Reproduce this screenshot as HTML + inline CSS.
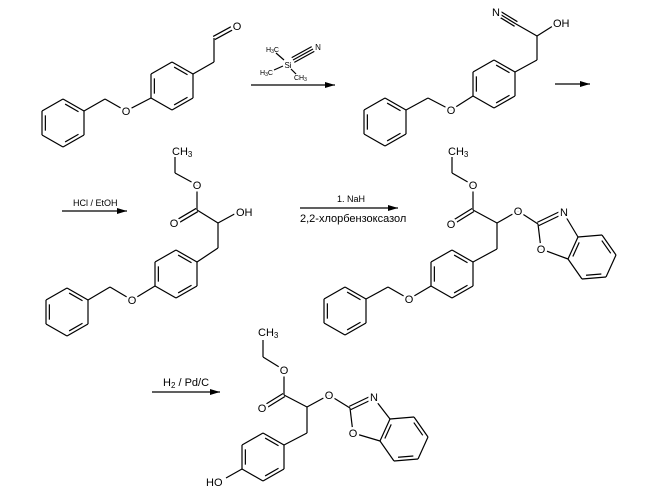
<!DOCTYPE html>
<html><head><meta charset="utf-8"><style>
html,body{margin:0;padding:0;background:#fff}
svg{display:block}
text{font-family:"Liberation Sans",sans-serif;fill:#000}
.l{paint-order:stroke;stroke:#fff;stroke-width:5px;stroke-linejoin:round}
</style></head><body>
<svg id="s" width="646" height="500" viewBox="0 0 646 500" xmlns="http://www.w3.org/2000/svg">
<defs><marker id="ah" markerWidth="10" markerHeight="6" refX="10" refY="3" orient="auto" markerUnits="userSpaceOnUse"><path d="M0,0 L10,3 L0,6 z" fill="#000"/></marker></defs>
<g id="b" stroke="#000" stroke-width="1.2" fill="none"></g>
<g stroke="#000" stroke-width="1.2">
<line x1="251" y1="85" x2="335" y2="85" marker-end="url(#ah)"/>
<line x1="555" y1="84" x2="590" y2="84" marker-end="url(#ah)"/>
<line x1="62" y1="211" x2="127" y2="211" marker-end="url(#ah)"/>
<line x1="300" y1="208" x2="398" y2="208" marker-end="url(#ah)"/>
<line x1="152" y1="392" x2="220" y2="392" marker-end="url(#ah)"/>
</g>
<g id="t" font-size="11">
<text class="l" x="126" y="115" text-anchor="middle">O</text>
<text class="l" x="237" y="30" text-anchor="middle">O</text>
<text class="l" x="451" y="114" text-anchor="middle">O</text>
<text class="l" x="553" y="27">OH</text>
<text class="l" x="496" y="16" text-anchor="middle">N</text>
<text x="172" y="155">CH<tspan font-size="8" dy="2">3</tspan></text>
<text class="l" x="197" y="189" text-anchor="middle">O</text>
<text class="l" x="174" y="227" text-anchor="middle">O</text>
<text class="l" x="236" y="216">OH</text>
<text class="l" x="132" y="304" text-anchor="middle">O</text>
<text x="448" y="155">CH<tspan font-size="8" dy="2">3</tspan></text>
<text class="l" x="473" y="189" text-anchor="middle">O</text>
<text class="l" x="451" y="228" text-anchor="middle">O</text>
<text class="l" x="518" y="215" text-anchor="middle">O</text>
<text class="l" x="564" y="216" text-anchor="middle">N</text>
<text class="l" x="541" y="253" text-anchor="middle">O</text>
<text class="l" x="409" y="303" text-anchor="middle">O</text>
<text x="258" y="336">CH<tspan font-size="8" dy="2">3</tspan></text>
<text class="l" x="284" y="374" text-anchor="middle">O</text>
<text class="l" x="262" y="412" text-anchor="middle">O</text>
<text class="l" x="329" y="399" text-anchor="middle">O</text>
<text class="l" x="374" y="401" text-anchor="middle">N</text>
<text class="l" x="353" y="437" text-anchor="middle">O</text>
<text class="l" x="206" y="486">HO</text>
<text x="73" y="206" font-size="9">HCl / EtOH</text>
<text x="337" y="202" font-size="9">1. NaH</text>
<text x="300" y="222" font-size="11">2,2-хлорбензоксазол</text>
<text x="163" y="386" font-size="11">H<tspan font-size="8" dy="2">2</tspan><tspan dy="-2"> / Pd/C</tspan></text>
<text x="288" y="68" font-size="8" text-anchor="middle">Si</text>
<text x="266" y="52" font-size="7">H<tspan font-size="5" dy="1">3</tspan><tspan dy="-1">C</tspan></text>
<text x="260" y="75" font-size="7">H<tspan font-size="5" dy="1">3</tspan><tspan dy="-1">C</tspan></text>
<text x="294" y="80" font-size="7">CH<tspan font-size="5" dy="1">3</tspan></text>
<text x="318" y="50" font-size="8" text-anchor="middle">N</text>
</g>
</svg>
<script>
var g=document.getElementById('b'),t=document.getElementById('t'),s=document.getElementById('s');
function L(a,b,c,d){var e=document.createElementNS('http://www.w3.org/2000/svg','line');e.setAttribute('x1',a);e.setAttribute('y1',b);e.setAttribute('x2',c);e.setAttribute('y2',d);g.appendChild(e);}
function B(p,q,n){ if(!n||n==1){L(p[0],p[1],q[0],q[1]);return;}
 var dx=q[0]-p[0],dy=q[1]-p[1],l=Math.hypot(dx,dy),ox=-dy/l*1.8,oy=dx/l*1.8;
 if(n==2){L(p[0]+ox,p[1]+oy,q[0]+ox,q[1]+oy);L(p[0]-ox,p[1]-oy,q[0]-ox,q[1]-oy);}
 else{L(p[0],p[1],q[0],q[1]);L(p[0]+ox*1.5,p[1]+oy*1.5,q[0]+ox*1.5,q[1]+oy*1.5);L(p[0]-ox*1.5,p[1]-oy*1.5,q[0]-ox*1.5,q[1]-oy*1.5);}}
function inner(p,q,c){var k=0.16,mx=function(a){return [a[0]+(c[0]-a[0])*k,a[1]+(c[1]-a[1])*k];};
 var a=mx(p),b=mx(q),dx=b[0]-a[0],dy=b[1]-a[1];L(a[0]+dx*0.12,a[1]+dy*0.12,b[0]-dx*0.12,b[1]-dy*0.12);}
function poly(v,dbl){var c=[0,0];v.forEach(function(p){c[0]+=p[0]/v.length;c[1]+=p[1]/v.length;});
 for(var i=0;i<v.length;i++){var p=v[i],q=v[(i+1)%v.length];L(p[0],p[1],q[0],q[1]);if(dbl.indexOf(i)>=0)inner(p,q,c);}}
function ring(cx,cy){var v=[[cx,cy-24],[cx+21,cy-12],[cx+21,cy+12],[cx,cy+24],[cx-21,cy+12],[cx-21,cy-12]];poly(v,[0,2,4]);return v;}
// mol1
ring(63,123);ring(172,86);
B([84,111],[105,99]);B([105,99],[126,111]);B([126,111],[151,98]);
B([193,74],[214,62]);B([214,62],[214,38]);B([214,38],[236,26],2);
// reagent
B([284,60],[276,53]);B([283,66],[274,70]);B([291,69],[296,74]);B([293,60],[313,49],3);
// mol2
ring(385,122);ring(494,84);
B([406,110],[428,98]);B([428,98],[451,110]);B([451,110],[473,96]);
B([515,72],[537,60]);B([537,60],[537,36]);B([537,36],[556,24]);B([537,36],[516,24]);B([516,24],[498,13],3);
// mol3
ring(67,312);ring(176,274);
B([88,300],[110,287]);B([110,287],[132,300]);B([132,300],[155,286]);
B([197,262],[218,248]);B([218,248],[218,223]);B([218,223],[240,211]);B([218,223],[197,210]);B([197,210],[175,223],2);
B([197,210],[197,185]);B([197,185],[175,173]);B([175,173],[175,157]);
// mol4
ring(345,311);ring(452,274);
B([366,299],[388,287]);B([388,287],[409,299]);B([409,299],[431,286]);
B([473,262],[497,249]);B([497,249],[497,223]);B([497,223],[473,210]);B([473,210],[452,223],2);
B([473,210],[473,185]);B([473,185],[452,173]);B([452,173],[452,157]);
B([497,223],[518,211]);B([518,211],[538,224]);B([538,224],[563,212],2);B([563,212],[578,237]);
B([538,224],[541,249]);B([541,249],[568,259]);
poly([[578,237],[602,235],[616,255],[606,277],[582,279],[568,259]],[1,3,5]);
// mol5
ring(263,457);
B([284,445],[307,433]);B([307,433],[307,407]);B([307,407],[284,395]);B([284,395],[263,408],2);
B([284,395],[284,370]);B([284,370],[263,357]);B([263,357],[263,340]);
B([307,407],[329,395]);B([329,395],[350,408]);B([350,408],[373,397],2);B([373,397],[390,419]);
B([350,408],[353,433]);B([353,433],[380,441]);
poly([[390,419],[414,417],[428,437],[418,459],[394,461],[380,441]],[1,3,5]);
B([242,469],[226,478]);
s.appendChild(t);
</script>
</body></html>
